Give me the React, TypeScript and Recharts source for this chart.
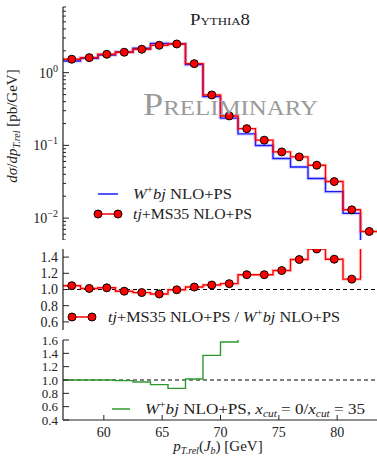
import React from "react";
import { ComposedChart, Line, XAxis, YAxis, ReferenceLine } from "recharts";

// bins are 1.5 GeV wide
const binEdges = [56.5, 58, 59.5, 61, 62.5, 64, 65.5, 67, 68.5, 70, 71.5, 73, 74.5, 76, 77.5, 79, 80.5, 82, 83.5];
const binCenters = [57.25, 58.75, 60.25, 61.75, 63.25, 64.75, 66.25, 67.75, 69.25, 70.75, 72.25, 73.75, 75.25, 76.75, 78.25, 79.75, 81.25, 82.75];

// dsigma/dpT,rel [pb/GeV]
const wbjNloPs = [1.45, 1.58, 1.75, 1.93, 2.17, 2.53, 2.5, 1.29, 0.468, 0.237, 0.144, 0.0995, 0.066, 0.0505, 0.035, 0.0231, 0.0116, 0.004];
const tjMs35NloPs = [1.53, 1.61, 1.79, 1.91, 2.1, 2.38, 2.48, 1.33, 0.494, 0.254, 0.17, 0.118, 0.0814, 0.0695, 0.0534, 0.0318, 0.013, 0.00655];

// ratio panels
const ratioTjOverWbj = [1.047, 1.013, 1.021, 0.979, 0.962, 0.945, 0.996, 1.03, 1.055, 1.072, 1.183, 1.183, 1.234, 1.37, 1.5, 1.374, 1.128, 1.9];
const ratioXcut = [1.0, 1.0, 1.0, 0.99, 0.97, 0.93, 0.875, 1.015, 1.37, 1.57, 1.85, 2.1, 2.3, 2.5, 2.4, 2.6, 2.2, 2.0];

const xTicks = [60, 65, 70, 75, 80];
const logMajor = [0.01, 0.1, 1];
const logTicks = [
  0.005, 0.006, 0.007, 0.008, 0.009, 0.01,
  0.02, 0.03, 0.04, 0.05, 0.06, 0.07, 0.08, 0.09, 0.1,
  0.2, 0.3, 0.4, 0.5, 0.6, 0.7, 0.8, 0.9, 1,
  2, 3, 4, 5, 6, 7, 8,
];
const ratioTicks = [0.6, 0.8, 1.0, 1.2, 1.4];
const xcutTicks = [0.4, 0.6, 0.8, 1.0, 1.2, 1.4, 1.6];

const FONT = "'Liberation Serif', 'DejaVu Serif', serif";
const INK = "#222";
const RED = "#ff0000";
const BLUE = "#1a1aff";
const GREEN = "#2e9a2e";
const W = 378;

const steps = (vals: number[]) =>
  binEdges.map((x, i) => ({ x, y: vals[Math.min(i, vals.length - 1)] }));
const points = (vals: number[]) => binCenters.map((x, i) => ({ x, y: vals[i] }));

const axisLine = { stroke: INK, strokeWidth: 1.2 };

const xTick = (side: "top" | "bottom", labels: boolean) => (p: any) => {
  const { x, y, payload } = p;
  const dir = side === "bottom" ? -1 : 1;
  return (
    <g>
      <line x1={x} x2={x} y1={y} y2={y + dir * 5} stroke={INK} strokeWidth={1} />
      {labels && (
        <text x={x} y={y + 17} textAnchor="middle" fontSize={14} fontFamily={FONT} fill={INK}>
          {payload.value}
        </text>
      )}
    </g>
  );
};

const yTick =
  (side: "left" | "right", majors: number[], fmt?: (v: number) => React.ReactNode, size = 14) =>
  (p: any) => {
    const { x, y, payload } = p;
    const v = payload.value;
    const major = majors.some((m) => Math.abs(m - v) < 1e-9);
    const dir = side === "left" ? 1 : -1;
    const len = major ? 6 : 3;
    return (
      <g>
        <line x1={x} x2={x + dir * len} y1={y} y2={y} stroke={INK} strokeWidth={1} />
        {fmt && major && (
          <text x={x - 5} y={y} dy="0.35em" textAnchor="end" fontSize={size} fontFamily={FONT} fill={INK}>
            {fmt(v)}
          </text>
        )}
      </g>
    );
  };

const logLabel = (v: number) => {
  const e = Math.round(Math.log10(v));
  return (
    <>
      <tspan>10</tspan>
      <tspan dy={-6} fontSize={10}>{e < 0 ? "\u2212" + Math.abs(e) : String(e)}</tspan>
    </>
  );
};
const fixedLabel = (v: number) => v.toFixed(1);

const xAxes = (labels: boolean) => [
  <XAxis
    key="xb"
    xAxisId={0}
    type="number"
    dataKey="x"
    domain={[56.5, 83.5]}
    allowDataOverflow
    ticks={xTicks}
    interval={0}
    tickSize={0}
    tickMargin={0}
    height={labels ? 22 : 0}
    axisLine={axisLine}
    tickLine={false}
    tick={xTick("bottom", labels)}
  />,
  <XAxis
    key="xt"
    xAxisId="top"
    orientation="top"
    type="number"
    dataKey="x"
    domain={[56.5, 83.5]}
    allowDataOverflow
    ticks={xTicks}
    interval={0}
    tickSize={0}
    tickMargin={0}
    height={0}
    axisLine={axisLine}
    tickLine={false}
    tick={xTick("top", false)}
  />,
];

const yAxes = (
  domain: [number, number],
  ticks: number[],
  majors: number[],
  fmt: (v: number) => React.ReactNode,
  log = false,
  size = 14
) => [
  <YAxis
    key="yl"
    yAxisId={0}
    type="number"
    scale={log ? "log" : "linear"}
    domain={domain}
    allowDataOverflow
    ticks={ticks}
    interval={0}
    tickSize={0}
    tickMargin={0}
    width={63}
    axisLine={axisLine}
    tickLine={false}
    tick={yTick("left", majors, fmt, size)}
  />,
  <YAxis
    key="yr"
    yAxisId="r"
    orientation="right"
    type="number"
    scale={log ? "log" : "linear"}
    domain={domain}
    allowDataOverflow
    ticks={ticks}
    interval={0}
    tickSize={0}
    tickMargin={0}
    width={0}
    axisLine={axisLine}
    tickLine={false}
    tick={yTick("right", majors)}
  />,
];

const stepLine = (key: string, vals: number[], color: string, halo = true) => [
  halo ? (
    <Line
      key={key + "h"}
      data={steps(vals)}
      dataKey="y"
      type="stepAfter"
      stroke={color}
      strokeOpacity={0.18}
      strokeWidth={3.5}
      dot={false}
      isAnimationActive={false}
    />
  ) : null,
  <Line
    key={key}
    data={steps(vals)}
    dataKey="y"
    type="stepAfter"
    stroke={color}
    strokeWidth={1.4}
    dot={false}
    isAnimationActive={false}
  />,
];

const dots = (key: string, vals: number[]) => (
  <Line
    key={key}
    data={points(vals)}
    dataKey="y"
    stroke="none"
    dot={{ r: 4, fill: RED, stroke: "#000", strokeWidth: 1 }}
    isAnimationActive={false}
  />
);

const Italic = ({ children }: { children: React.ReactNode }) => (
  <tspan fontStyle="italic">{children}</tspan>
);

function Overlay() {
  const t = { fontFamily: FONT, fill: INK, fontSize: 14, lengthAdjust: "spacingAndGlyphs" } as const;
  return (
    <svg width={377} height={457} style={{ position: "absolute", left: 0, top: 0, pointerEvents: "none" }}>
      <text x={190} y={25} {...t} fontSize={16} textLength={60} style={{ fontVariant: "small-caps" }}>
        Pythia8
      </text>
      <text
        x={143}
        y={115}
        fontFamily={FONT}
        fill="#9a9a9a"
        fontSize={32}
        textLength={175}
        lengthAdjust="spacingAndGlyphs"
        style={{ fontVariant: "small-caps" }}
      >
        Preliminary
      </text>

      {/* top legend */}
      <line x1={98} x2={118} y1={194} y2={194} stroke={BLUE} strokeWidth={1.5} />
      <text x={133} y={199} {...t} fontSize={15} textLength={99}>
        <Italic>W</Italic>
        <tspan dy={-6} fontSize={10}>+</tspan>
        <tspan dy={6}><Italic>bj</Italic> NLO+PS</tspan>
      </text>
      <line x1={98} x2={118} y1={214} y2={214} stroke={RED} strokeWidth={1.5} />
      <circle cx={98} cy={214} r={4} fill={RED} stroke="#000" />
      <circle cx={118} cy={214} r={4} fill={RED} stroke="#000" />
      <text x={133} y={219} {...t} fontSize={15} textLength={119}>
        <Italic>tj</Italic>+MS35 NLO+PS
      </text>

      {/* middle legend */}
      <line x1={72} x2={92} y1={317} y2={317} stroke={RED} strokeWidth={1.5} />
      <circle cx={72} cy={317} r={4} fill={RED} stroke="#000" />
      <circle cx={92} cy={317} r={4} fill={RED} stroke="#000" />
      <text x={108} y={322} {...t} fontSize={15} textLength={232}>
        <Italic>tj</Italic>+MS35 NLO+PS / <Italic>W</Italic>
        <tspan dy={-6} fontSize={10}>+</tspan>
        <tspan dy={6}><Italic>bj</Italic> NLO+PS</tspan>
      </text>

      {/* bottom legend */}
      <line x1={112} x2={130} y1={409} y2={409} stroke={GREEN} strokeWidth={1.5} />
      <text x={145} y={414} {...t} fontSize={15} textLength={220}>
        <Italic>W</Italic>
        <tspan dy={-6} fontSize={10}>+</tspan>
        <tspan dy={6}><Italic>bj</Italic> NLO+PS, <Italic>x</Italic></tspan>
        <tspan dy={3} fontSize={10} fontStyle="italic">cut</tspan>
        <tspan dy={-3}> = 0/<Italic>x</Italic></tspan>
        <tspan dy={3} fontSize={10} fontStyle="italic">cut</tspan>
        <tspan dy={-3}> = 35</tspan>
      </text>

      {/* axis titles */}
      <text transform="translate(17,126) rotate(-90)" textAnchor="middle" fontFamily={FONT} fill={INK} fontSize={15}>
        <Italic>dσ</Italic>/<Italic>dp</Italic>
        <tspan dy={3} fontSize={10} fontStyle="italic">T.rel</tspan>
        <tspan dy={-3}> [pb/GeV]</tspan>
      </text>
      <text x={218} y={451} textAnchor="middle" fontFamily={FONT} fill={INK} fontSize={15}>
        <Italic>p</Italic>
        <tspan dy={3} fontSize={10} fontStyle="italic">T.rel</tspan>
        <tspan dy={-3}>(</tspan>
        <Italic>J</Italic>
        <tspan dy={3} fontSize={10} fontStyle="italic">b</tspan>
        <tspan dy={-3}>) [GeV]</tspan>
      </text>
    </svg>
  );
}

export default function App() {
  return (
    <div
      style={{
        position: "absolute",
        left: 0,
        top: 0,
        width: 377,
        height: 457,
        overflow: "hidden",
        background: "#fff",
      }}
    >
      <div style={{ position: "absolute", left: 0, top: 0 }}>
        <ComposedChart width={W} height={240} margin={{ top: 7, right: 0, bottom: 0, left: 0 }}>
          {xAxes(false)}
          {yAxes([0.005, 8], logTicks, logMajor, logLabel, true)}
          {stepLine("wbj", wbjNloPs, BLUE)}
          {stepLine("tj", tjMs35NloPs, RED)}
          {dots("tjdots", tjMs35NloPs)}
        </ComposedChart>
      </div>

      <div style={{ position: "absolute", left: 0, top: 241 }}>
        <ComposedChart width={W} height={89} margin={{ top: 8, right: 0, bottom: 0, left: 0 }}>
          {xAxes(false)}
          {yAxes([0.5, 1.5], ratioTicks, ratioTicks, fixedLabel)}
          <ReferenceLine y={1} stroke="#000" strokeDasharray="4 3" strokeWidth={1} />
          {stepLine("ratio", ratioTjOverWbj, RED)}
          {dots("ratiodots", ratioTjOverWbj)}
        </ComposedChart>
      </div>

      <div style={{ position: "absolute", left: 0, top: 331 }}>
        <ComposedChart width={W} height={111} margin={{ top: 9, right: 0, bottom: 0, left: 0 }}>
          {xAxes(true)}
          {yAxes([0.4, 1.6], xcutTicks, xcutTicks, fixedLabel, false, 13)}
          <ReferenceLine y={1} stroke="#000" strokeDasharray="4 3" strokeWidth={1} />
          {stepLine("xcut", ratioXcut, GREEN, false)}
        </ComposedChart>
      </div>

      <Overlay />
    </div>
  );
}
